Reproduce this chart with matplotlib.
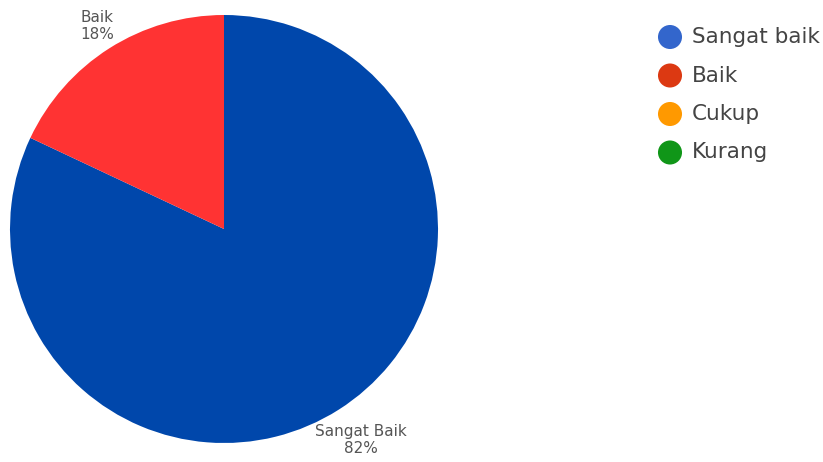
import matplotlib
matplotlib.use("Agg")
import matplotlib.pyplot as plt

# Data
slice_labels = ["Sangat Baik", "Baik"]
slice_values = [82, 18]
slice_colors = ["#0047AB", "#FF3333"]

legend_labels = ["Sangat baik", "Baik", "Cukup", "Kurang"]
legend_colors = ["#3366CC", "#DC3912", "#FF9900", "#109618"]

W, H = 823, 462
fig = plt.figure(figsize=(W / 100, H / 100), dpi=100)
fig.patch.set_facecolor("white")

# Pie axes: center (224,229), radius 214 px
cx, cy, r = 224, 229, 214
ax = fig.add_axes([(cx - r) / W, (H - cy - r) / H, 2 * r / W, 2 * r / H])
wedges, _ = ax.pie(slice_values, colors=slice_colors, startangle=90,
                   counterclock=False, radius=1.0,
                   wedgeprops=dict(linewidth=0))
ax.set_xlim(-1, 1)
ax.set_ylim(-1, 1)
ax.set_aspect("equal")
ax.axis("off")

txt_color = "#555555"
fig.text(97 / W, 1 - 26 / H, f"{slice_labels[1]}\n{slice_values[1]}%",
         ha="center", va="center", fontsize=11, color=txt_color,
         linespacing=1.1)
fig.text(361 / W, 1 - 440 / H, f"{slice_labels[0]}\n{slice_values[0]}%",
         ha="center", va="center", fontsize=11, color=txt_color,
         linespacing=1.1)

# Legend
lax = fig.add_axes([0, 0, 1, 1])
lax.set_xlim(0, W)
lax.set_ylim(H, 0)
lax.axis("off")
y0, dy = 37, 38.5
for i, (lab, col) in enumerate(zip(legend_labels, legend_colors)):
    y = y0 + i * dy
    lax.scatter([670], [y], s=24 ** 2 * 0.52, color=col, edgecolors="none")
    lax.text(692, y, lab, ha="left", va="center", fontsize=15.5, color="#444444")

fig.savefig("out.png", dpi=100)
